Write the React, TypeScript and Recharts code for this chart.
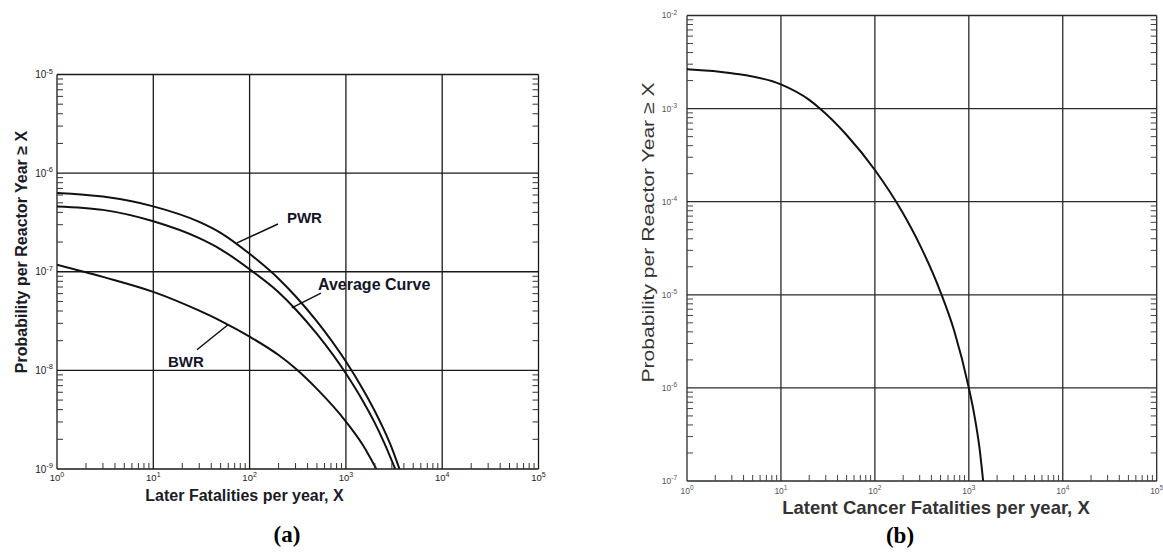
import React from 'react';
import { LineChart, Line, XAxis, YAxis, ReferenceLine, ReferenceDot } from 'recharts';

// ---------------- data ----------------
const xDecades = [1, 10, 100, 1000, 10000, 100000];
const yDecadesA = [1e-9, 1e-8, 1e-7, 1e-6, 1e-5];
const yDecadesB = [1e-7, 1e-6, 1e-5, 1e-4, 1e-3, 1e-2];
const minorSteps = [2, 3, 4, 5, 6, 7, 8, 9];

// (a) Later fatalities
const pwrX = [1, 3, 10, 30, 50, 100, 200, 300, 500, 1000, 1500, 2000, 2500, 3000, 3600];
const pwrY = [6.3e-7, 5.78e-7, 4.6e-7, 3.2e-7, 2.48e-7, 1.52e-7, 8.5e-8, 5.65e-8, 3.14e-8, 1.23e-8, 6.45e-9, 3.85e-9, 2.46e-9, 1.63e-9, 1.0e-9];
const avgX = [1, 3, 10, 30, 50, 100, 200, 300, 500, 1000, 1500, 2000, 2500, 3250];
const avgY = [4.6e-7, 4.24e-7, 3.25e-7, 2.19e-7, 1.69e-7, 1.06e-7, 6.2e-8, 4.17e-8, 2.34e-8, 9.3e-9, 4.9e-9, 2.92e-9, 1.84e-9, 1.0e-9];
const bwrX = [1, 3, 10, 30, 50, 100, 200, 300, 500, 1000, 1500, 2070];
const bwrY = [1.18e-7, 8.87e-8, 6.25e-8, 4.03e-8, 3.18e-8, 2.2e-8, 1.43e-8, 1.045e-8, 6.49e-9, 3.03e-9, 1.75e-9, 1.0e-9];

// (b) Latent cancer fatalities
const cancerX = [1, 3, 10, 20, 26, 50, 100, 200, 300, 500, 700, 1000, 1150, 1300, 1420];
const cancerY = [2.65e-3, 2.4e-3, 1.82e-3, 1.24e-3, 1.0e-3, 5.2e-4, 2.19e-4, 7.46e-5, 3.46e-5, 1.07e-5, 4.09e-6, 1.0e-6, 4.98e-7, 2.25e-7, 1.0e-7];

// annotations (data coordinates)
const labelsA = [
  { text: 'PWR', x: 244, y: 3.5e-7, size: 15 },
  { text: 'Average Curve', x: 513, y: 7.5e-8, size: 16 },
  { text: 'BWR', x: 14.2, y: 1.22e-8, size: 15 },
];
const leadersA = [
  { x1: 197, y1: 3.05e-7, x2: 74, y2: 1.96e-7 },
  { x1: 551, y1: 6.07e-8, x2: 274, y2: 4.3e-8 },
  { x1: 28.4, y1: 1.62e-8, x2: 59.7, y2: 2.9e-8 },
];

// ---------------- helpers ----------------
const withMinors = (decades: number[]) =>
  decades.flatMap((d, i) => (i < decades.length - 1 ? [d, ...minorSteps.map((m) => d * m)] : [d]));

const toPoints = (xs: number[], ys: number[]) => xs.map((x, i) => ({ x, y: ys[i] }));

const pwrData = toPoints(pwrX, pwrY);
const avgData = toPoints(avgX, avgY);
const bwrData = toPoints(bwrX, bwrY);
const cancerData = toPoints(cancerX, cancerY);

const SANS = 'Liberation Sans, Arial, Helvetica, sans-serif';
const SERIF = 'Liberation Serif, Times New Roman, serif';

type TickStyle = { fs: number; sup: number; fill: string; gap: number; minor: number; tick: string };

const makeXTick = (decades: number[], st: TickStyle) => (props: any) => {
  const { x, y, payload } = props;
  const v = payload.value;
  if (decades.includes(v)) {
    const e = Math.round(Math.log10(v));
    return (
      <text x={x} y={y + st.gap} textAnchor="middle" fontFamily={SANS} fontSize={st.fs} fill={st.fill}>
        10
        <tspan dy={-st.fs * 0.45} fontSize={st.sup}>
          {e}
        </tspan>
      </text>
    );
  }
  return <line x1={x} y1={y} x2={x} y2={y - st.minor} stroke={st.tick} strokeWidth={1} />;
};

const makeYTick = (decades: number[], st: TickStyle) => (props: any) => {
  const { x, y, payload } = props;
  const v = payload.value;
  if (decades.includes(v)) {
    const e = Math.round(Math.log10(v));
    return (
      <text x={x - st.gap} y={y} dy={st.fs * 0.35} textAnchor="end" fontFamily={SANS} fontSize={st.fs} fill={st.fill}>
        10
        <tspan dy={-st.fs * 0.45} fontSize={st.sup}>
          {e}
        </tspan>
      </text>
    );
  }
  return <line x1={x} y1={y} x2={x + st.minor} y2={y} stroke={st.tick} strokeWidth={1} />;
};

const makeRightTick = (decades: number[], st: TickStyle) => (props: any) => {
  const { x, y, payload } = props;
  if (decades.includes(payload.value)) return <g />;
  return <line x1={x} y1={y} x2={x - st.minor} y2={y} stroke={st.tick} strokeWidth={1} />;
};

const tickA: TickStyle = { fs: 9.5, sup: 7, fill: '#222', gap: 12, minor: 6, tick: '#333' };
const tickAY: TickStyle = { fs: 10, sup: 7.5, fill: '#222', gap: 4, minor: 6, tick: '#333' };
const tickB: TickStyle = { fs: 8.5, sup: 6.5, fill: '#555', gap: 12.5, minor: 6, tick: '#444' };
const tickBY: TickStyle = { fs: 8.5, sup: 6.5, fill: '#555', gap: 10, minor: 6, tick: '#444' };

const TitlesA = () => (
  <g>
    <text
      transform="translate(21 252) rotate(-90)"
      textAnchor="middle"
      dominantBaseline="central"
      fontFamily={SANS}
      fontSize={16}
      fontWeight="bold"
      fill="#1b1b28"
    >
      Probability per Reactor Year ≥ X
    </text>
    <text x={244.5} y={501} textAnchor="middle" fontFamily={SANS} fontSize={16} fontWeight="bold" fill="#1b1b28">
      Later Fatalities per year, X
    </text>
    <text x={287} y={542} textAnchor="middle" fontFamily={SERIF} fontSize={23} fontWeight="bold" fill="#000">
      (a)
    </text>
  </g>
);

const TitlesB = () => (
  <g>
    <text
      transform="translate(68 232.5) rotate(-90)"
      textAnchor="middle"
      dominantBaseline="central"
      fontFamily={SANS}
      fontSize={17}
      textLength={300}
      lengthAdjust="spacingAndGlyphs"
      fill="#333"
    >
      Probability per Reactor Year ≥ X
    </text>
    <text x={356} y={514} textAnchor="middle" fontFamily={SANS} fontSize={18.5} fontWeight="bold" fill="#333">
      Latent Cancer Fatalities per year, X
    </text>
    <text x={320} y={543} textAnchor="middle" fontFamily={SERIF} fontSize={23} fontWeight="bold" fill="#000">
      (b)
    </text>
  </g>
);

const gridA = { stroke: '#1a1a1a', strokeWidth: 1.3 };
const gridB = { stroke: '#2a2a2a', strokeWidth: 1.3 };

export default function App() {
  const allXA = withMinors(xDecades);
  const allYA = withMinors(yDecadesA);
  const allYB = withMinors(yDecadesB);

  return (
    <div style={{ position: 'absolute', left: 0, top: 0, width: 1163, height: 552, background: '#fff' }}>
      {/* Chart (a) */}
      <div style={{ position: 'absolute', left: 0, top: 0 }}>
        <LineChart width={560} height={552} margin={{ top: 74.5, left: 56, right: 20.5, bottom: 82 }}>
          <XAxis
            dataKey="x"
            type="number"
            scale="log"
            domain={[1, 100000]}
            allowDataOverflow
            ticks={allXA}
            interval={0}
            tickLine={false}
            axisLine={false}
            tickSize={0}
            tickMargin={0}
            height={1}
            tick={makeXTick(xDecades, tickA)}
            label={TitlesA}
          />
          <YAxis
            type="number"
            scale="log"
            domain={[1e-9, 1e-5]}
            allowDataOverflow
            ticks={allYA}
            interval={0}
            tickLine={false}
            axisLine={false}
            tickSize={0}
            tickMargin={0}
            width={1}
            tick={makeYTick(yDecadesA, tickAY)}
          />
          <YAxis
            yAxisId="r"
            orientation="right"
            type="number"
            scale="log"
            domain={[1e-9, 1e-5]}
            allowDataOverflow
            ticks={allYA}
            interval={0}
            tickLine={false}
            axisLine={false}
            tickSize={0}
            tickMargin={0}
            width={1}
            tick={makeRightTick(yDecadesA, tickAY)}
          />
          {xDecades.map((v) => (
            <ReferenceLine key={'gx' + v} x={v} ifOverflow="visible" {...gridA} />
          ))}
          {yDecadesA.map((v) => (
            <ReferenceLine key={'gy' + v} y={v} ifOverflow="visible" {...gridA} />
          ))}
          <Line data={pwrData} dataKey="y" type="monotone" stroke="#111" strokeWidth={2} dot={false} isAnimationActive={false} />
          <Line data={avgData} dataKey="y" type="monotone" stroke="#111" strokeWidth={2} dot={false} isAnimationActive={false} />
          <Line data={bwrData} dataKey="y" type="monotone" stroke="#111" strokeWidth={2} dot={false} isAnimationActive={false} />
          {leadersA.map((l, i) => (
            <ReferenceLine
              key={'ld' + i}
              segment={[
                { x: l.x1, y: l.y1 },
                { x: l.x2, y: l.y2 },
              ]}
              stroke="#111"
              strokeWidth={1.5}
              ifOverflow="visible"
            />
          ))}
          {labelsA.map((a) => (
            <ReferenceDot
              key={a.text}
              x={a.x}
              y={a.y}
              r={0}
              ifOverflow="visible"
              shape={(p: any) => (
                <text x={p.cx} y={p.cy} dy="0.35em" textAnchor="start" fontFamily={SANS} fontSize={a.size} fontWeight="bold" fill="#15152a">
                  {a.text}
                </text>
              )}
            />
          ))}
        </LineChart>
      </div>

      {/* Chart (b) */}
      <div style={{ position: 'absolute', left: 580, top: 0 }}>
        <LineChart width={583} height={552} margin={{ top: 15.5, left: 106, right: 5.3, bottom: 70 }}>
          <XAxis
            dataKey="x"
            type="number"
            scale="log"
            domain={[1, 100000]}
            allowDataOverflow
            ticks={allXA}
            interval={0}
            tickLine={false}
            axisLine={false}
            tickSize={0}
            tickMargin={0}
            height={1}
            tick={makeXTick(xDecades, tickB)}
            label={TitlesB}
          />
          <YAxis
            type="number"
            scale="log"
            domain={[1e-7, 1e-2]}
            allowDataOverflow
            ticks={allYB}
            interval={0}
            tickLine={false}
            axisLine={false}
            tickSize={0}
            tickMargin={0}
            width={1}
            tick={makeYTick(yDecadesB, tickBY)}
          />
          <YAxis
            yAxisId="r"
            orientation="right"
            type="number"
            scale="log"
            domain={[1e-7, 1e-2]}
            allowDataOverflow
            ticks={allYB}
            interval={0}
            tickLine={false}
            axisLine={false}
            tickSize={0}
            tickMargin={0}
            width={1}
            tick={makeRightTick(yDecadesB, tickBY)}
          />
          {xDecades.map((v) => (
            <ReferenceLine key={'gx' + v} x={v} ifOverflow="visible" {...gridB} />
          ))}
          {yDecadesB.map((v) => (
            <ReferenceLine key={'gy' + v} y={v} ifOverflow="visible" {...gridB} />
          ))}
          <Line data={cancerData} dataKey="y" type="monotone" stroke="#111" strokeWidth={2} dot={false} isAnimationActive={false} />
        </LineChart>
      </div>
    </div>
  );
}
